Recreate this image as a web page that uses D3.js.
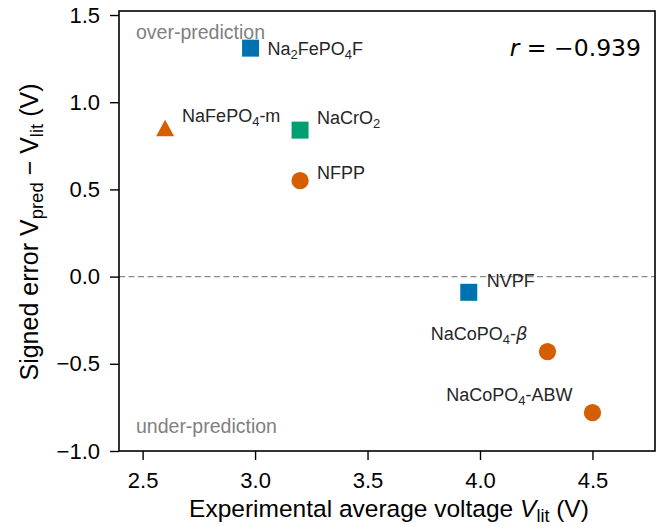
<!DOCTYPE html>
<html>
<head>
<meta charset="utf-8">
<script src="https://cdn.jsdelivr.net/npm/d3@7"></script>
<style>
html, body { margin: 0; background: #fff; }
svg { display: block; font-family: "Liberation Sans", Arial, sans-serif; }
</style>
</head>
<body>
<div id="chart"></div>
<script>
// data
var names = ["Na2FePO4F", "NaFePO4-m", "NaCrO2", "NFPP", "NVPF", "NaCoPO4-β", "NaCoPO4-ABW"];
var vlit  = [2.98, 2.60, 3.20, 3.20, 3.95, 4.30, 4.50];
var err   = [1.31, 0.85, 0.84, 0.55, -0.09, -0.43, -0.78];
var shapes = ["square", "triangle", "square", "circle", "square", "circle", "circle"];
var colors = ["#0072B2", "#D55E00", "#009E73", "#D55E00", "#0072B2", "#D55E00", "#D55E00"];
// label offsets (px, to text centre line) and anchors
var labelDx = [17, 17, 17, 17, 18, -20, -20];
var labelDy = [0, -13, -13, -8, -12, -18, -18];
var anchors = ["start", "start", "start", "start", "start", "end", "end"];
var xTicks = [2.5, 3.0, 3.5, 4.0, 4.5];
var yTicks = [-1.0, -0.5, 0.0, 0.5, 1.0, 1.5];

var W = 660, H = 526;
var m = {left: 119, right: 5, top: 11, bottom: 75};

var svg = d3.select("#chart").append("svg").attr("width", W).attr("height", H);

var x = d3.scaleLinear().domain([2.395, 4.778]).range([m.left, W - m.right]);
var y = d3.scaleLinear().domain([-1.0, 1.523]).range([H - m.bottom, m.top]);

var fmt = function(d) { return d3.format(".1f")(d).replace("-", "\u2212"); };

// zero line
svg.append("line")
    .attr("x1", x.range()[0]).attr("x2", x.range()[1])
    .attr("y1", y(0)).attr("y2", y(0))
    .attr("stroke", "#8a8a8a").attr("stroke-width", 1.4)
    .attr("stroke-dasharray", "6,3.5");

// axes
var xAxis = svg.append("g")
    .attr("transform", "translate(0," + (H - m.bottom) + ")")
    .call(d3.axisBottom(x).tickValues(xTicks).tickFormat(fmt).tickSize(9).tickPadding(12).tickSizeOuter(0));
var yAxis = svg.append("g")
    .attr("transform", "translate(" + m.left + ",0)")
    .call(d3.axisLeft(y).tickValues(yTicks).tickFormat(fmt).tickSize(9).tickPadding(10).tickSizeOuter(0));
[xAxis, yAxis].forEach(function(g) {
  g.select(".domain").remove();
  g.selectAll(".tick line").attr("stroke", "#000").attr("stroke-width", 1.4);
  g.selectAll(".tick text").attr("fill", "#000").style("font-size", "22px");
});

// frame
svg.append("rect")
    .attr("x", m.left).attr("y", m.top)
    .attr("width", W - m.right - m.left).attr("height", H - m.bottom - m.top)
    .attr("fill", "none").attr("stroke", "#000").attr("stroke-width", 1.6);

// region notes
svg.append("text").attr("x", 136).attr("y", 39)
    .attr("fill", "#808080").style("font-size", "19.5px").text("over-prediction");
svg.append("text").attr("x", 136).attr("y", 433)
    .attr("fill", "#808080").style("font-size", "19.5px").text("under-prediction");

// correlation
var rt = svg.append("text").attr("x", 641).attr("y", 56).attr("text-anchor", "end")
    .style("font-family", "DejaVu Sans").style("font-size", "23.5px").attr("fill", "#000");
rt.append("tspan").style("font-style", "italic").text("r");
rt.append("tspan").text(" = \u22120.939");

// markers
svg.append("g").selectAll("path")
    .data(names.map(function(n, i) { return i; }))
    .join("path")
    .attr("transform", function(i) { return "translate(" + x(vlit[i]) + "," + y(err[i]) + ")"; })
    .attr("fill", function(i) { return colors[i]; })
    .attr("d", function(i) {
      if (shapes[i] == "square") return "M-8.5,-8.5H8.5V8.5H-8.5Z";
      if (shapes[i] == "triangle") return "M0,-8.5L9,8H-9Z";
      return d3.symbol(d3.symbolCircle, 235)();
    });

// labels with subscripts
function addLabel(i) {
  var t = svg.append("text")
      .attr("x", x(vlit[i]) + labelDx[i])
      .attr("y", y(err[i]) + labelDy[i] + 6.5)
      .attr("text-anchor", anchors[i])
      .attr("fill", "#262626").style("font-size", "18px");
  var parts = names[i].match(/[A-Za-z\-β]+|\d+/g);
  var sub = false;
  parts.forEach(function(p) {
    var s = t.append("tspan");
    if (/^\d+$/.test(p) && names[i] != "NFPP") {
      s.attr("dy", sub ? 0 : 4).style("font-size", "13px").text(p);
      sub = true;
    } else {
      if (sub) s.attr("dy", -4);
      sub = false;
      if (p.indexOf("β") >= 0) {
        s.text(p.replace("β", ""));
        t.append("tspan").style("font-style", "italic").style("font-family", "DejaVu Sans").text("β");
      } else s.text(p);
    }
  });
}
names.forEach(function(n, i) { addLabel(i); });

// axis titles
var xl = svg.append("text").attr("x", (m.left + W - m.right) / 2 + 2).attr("y", 517)
    .attr("text-anchor", "middle").style("font-size", "24.5px").attr("fill", "#000");
xl.append("tspan").text("Experimental average voltage ");
xl.append("tspan").style("font-style", "italic").text("V");
xl.append("tspan").attr("dy", 5).style("font-size", "18px").text("lit");
xl.append("tspan").attr("dy", -5).text(" (V)");

var yl = svg.append("text")
    .attr("transform", "translate(38," + ((m.top + H - m.bottom) / 2 + 1) + ") rotate(-90)")
    .attr("text-anchor", "middle").style("font-size", "25px").attr("fill", "#000");
yl.append("tspan").text("Signed error V");
yl.append("tspan").attr("dy", 5).style("font-size", "18.5px").text("pred");
yl.append("tspan").attr("dy", -5).text(" \u2212 V");
yl.append("tspan").attr("dy", 5).style("font-size", "18.5px").text("lit");
yl.append("tspan").attr("dy", -5).text(" (V)");
</script>
</body>
</html>
